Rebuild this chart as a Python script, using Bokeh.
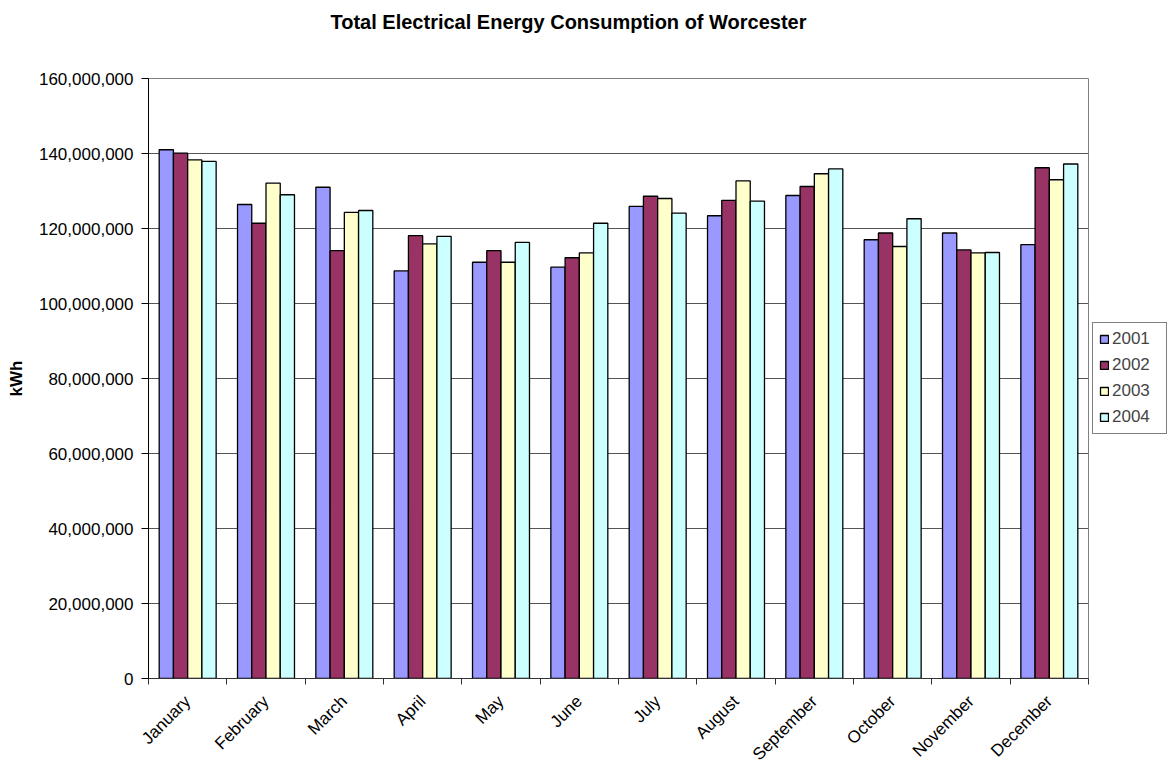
import math
import numpy as np
from bokeh.plotting import figure
from bokeh.models import (ColumnDataSource, Range1d, FixedTicker, NumeralTickFormatter,
                          Legend, LegendItem, Title)
from bokeh.transform import dodge
from bokeh.embed import file_html
from bokeh.resources import INLINE

# Monthly electrical energy consumption (kWh)
months = ["January", "February", "March", "April", "May", "June", "July",
          "August", "September", "October", "November", "December"]
years = ["2001", "2002", "2003", "2004"]
kwh_2001 = [141.0e6, 126.4e6, 131.0e6, 108.7e6, 111.0e6, 109.7e6,
            125.9e6, 123.4e6, 128.8e6, 117.0e6, 118.8e6, 115.7e6]
kwh_2002 = [140.1e6, 121.4e6, 114.1e6, 118.1e6, 114.1e6, 112.2e6,
            128.6e6, 127.5e6, 131.2e6, 118.8e6, 114.3e6, 136.2e6]
kwh_2003 = [138.3e6, 132.1e6, 124.3e6, 115.9e6, 111.0e6, 113.5e6,
            128.0e6, 132.7e6, 134.6e6, 115.2e6, 113.5e6, 133.0e6]
kwh_2004 = [137.9e6, 129.0e6, 124.8e6, 117.9e6, 116.3e6, 121.4e6,
            124.1e6, 127.3e6, 135.9e6, 122.6e6, 113.6e6, 137.2e6]
y_ticks = [0, 20e6, 40e6, 60e6, 80e6, 100e6, 120e6, 140e6, 160e6]
title_text = "Total Electrical Energy Consumption of Worcester"

colors = ["#9999FF", "#993366", "#FFFFCC", "#CCFFFF"]
FONT = "Liberation Sans"
TICK_SIZE = "17px"

centers = list(np.arange(len(months)) + 0.5)
source = ColumnDataSource(dict(x=centers, y2001=kwh_2001, y2002=kwh_2002,
                               y2003=kwh_2003, y2004=kwh_2004))

p = figure(frame_width=940, frame_height=600, output_backend="svg", toolbar_location=None,
           x_range=Range1d(0, len(months)), y_range=Range1d(0, 160e6), title=None)
p.min_border_left = 148
p.min_border_right = 84
p.min_border_top = 78
p.min_border_bottom = 94
p.background_fill_color = "white"
p.border_fill_color = "white"
p.outline_line_color = "#808080"
p.outline_line_width = 1

# blank spacer between the frame and the heading, then the heading itself
spacer = Title(text=" ", text_font=FONT, text_font_size="20px", standoff=17)
p.add_layout(spacer, "above")
heading = Title(text=title_text, align="left", offset=182, text_font=FONT,
                text_font_size="20px", text_font_style="bold", text_color="black",
                standoff=9)
p.add_layout(heading, "above")

bw = 1 / 5.5
offsets = [-1.5 * bw, -0.5 * bw, 0.5 * bw, 1.5 * bw]
renderers = []
for yr, col, off in zip(years, colors, offsets):
    r = p.vbar(x=dodge("x", off), top="y" + yr, width=bw, bottom=0, source=source,
               fill_color=col, line_color="black", line_width=1.3)
    renderers.append(r)

# x axis: month labels at centres, tick marks on category boundaries
xa = p.xaxis[0]
xa.ticker = FixedTicker(ticks=centers, minor_ticks=list(range(len(months) + 1)))
xa.major_label_overrides = {c: m for c, m in zip(centers, months)}
xa.major_tick_out = 0
xa.major_tick_in = 0
xa.minor_tick_out = 6
xa.minor_tick_in = 0
xa.minor_tick_line_color = "#333333"
xa.axis_line_color = "#333333"
xa.major_label_orientation = math.pi / 4
xa.major_label_text_font = FONT
xa.major_label_text_font_size = TICK_SIZE
xa.major_label_text_color = "black"
xa.major_label_standoff = 14

ya = p.yaxis[0]
ya.ticker = FixedTicker(ticks=y_ticks)
ya.formatter = NumeralTickFormatter(format="0,0")
ya.minor_tick_line_color = None
ya.major_tick_out = 7
ya.major_tick_in = 0
ya.axis_line_color = "black"
ya.major_tick_line_color = "black"
ya.major_label_text_font = FONT
ya.major_label_text_font_size = TICK_SIZE
ya.major_label_text_color = "black"
ya.major_label_standoff = 8
ya.axis_label = "kWh"
ya.axis_label_text_font = FONT
ya.axis_label_text_font_size = "17px"
ya.axis_label_text_font_style = "bold"
ya.axis_label_text_color = "black"
ya.axis_label_standoff = 10

p.xgrid.grid_line_color = None
p.ygrid.grid_line_color = "#555555"
p.ygrid.grid_line_width = 1

legend = Legend(items=[LegendItem(label=yr, renderers=[r]) for yr, r in zip(years, renderers)],
                location="center_left")
legend.border_line_color = "black"
legend.border_line_width = 1
legend.background_fill_color = "white"
legend.background_fill_alpha = 1
legend.label_text_font = FONT
legend.label_text_font_size = TICK_SIZE
legend.label_height = 20
legend.glyph_height = 10
legend.glyph_width = 10
legend.spacing = 6
legend.padding = 6
legend.margin = 4
legend.label_standoff = 3
legend.label_width = 48
p.add_layout(legend, "right")

open("out.html", "w").write(file_html(p, INLINE))
